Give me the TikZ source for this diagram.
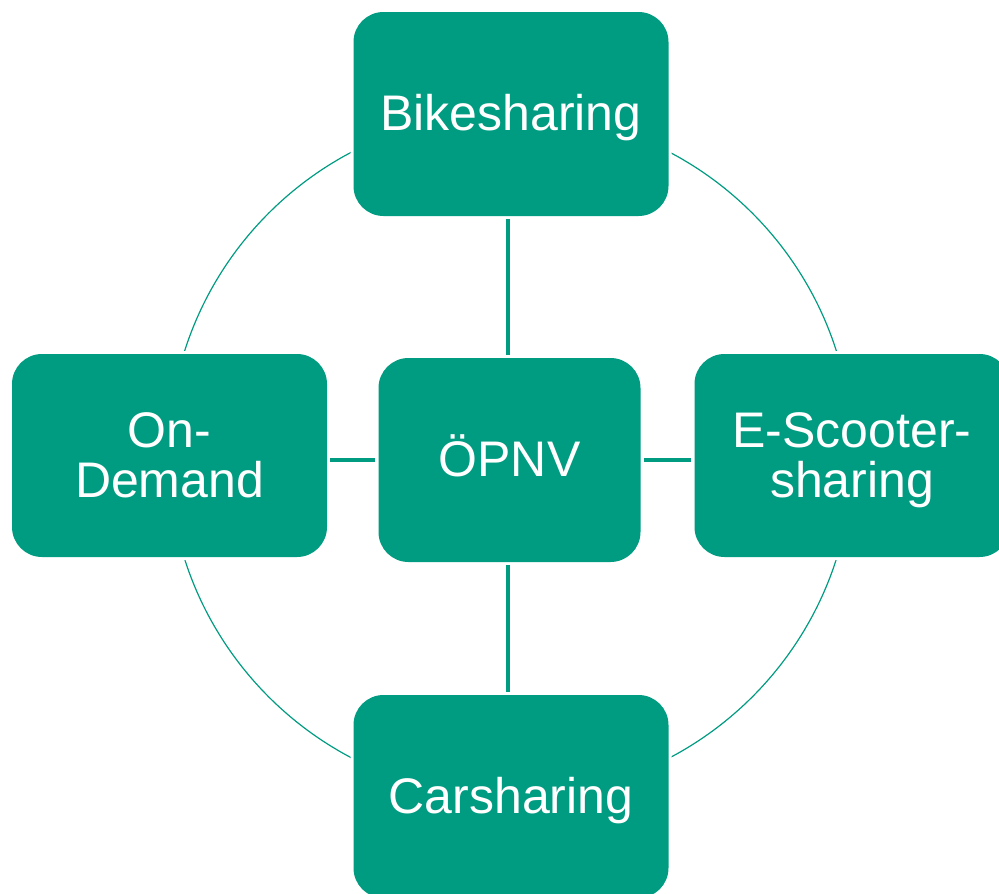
\documentclass[tikz,border=0pt]{standalone}
\usepackage{fontspec}
\setmainfont{Liberation Sans}
\usetikzlibrary{calc}
\definecolor{teal}{RGB}{0,156,130}
\begin{document}
\begin{tikzpicture}[x=1pt,y=-1pt,
  mbox/.style={rectangle, rounded corners=30pt, fill=teal, inner sep=0pt,
    preaction={draw=white, line width=6pt},
    text=white, align=center, text depth=0pt,
    font=\fontsize{50}{50}\selectfont},
  oneline/.style={text height=33pt},
  link/.style={draw=teal, line width=4pt, shorten <=3pt, shorten >=3pt},
  ring/.style={draw=teal, line width=1.2pt}]
\useasboundingbox (0,0) rectangle (999,894);
\clip (0,0) rectangle (999,894);
\coordinate (c) at (510.5,455);
\draw[ring] (c) circle[radius=342pt];
\node[mbox, oneline, minimum width=315pt, minimum height=204pt] (bk) at (511,114) {Bikesharing};
\node[mbox, oneline, minimum width=262pt, minimum height=204pt] (op) at (509.5,460) {ÖPNV};
\node[mbox, minimum width=315pt, minimum height=203pt] (od) at (169.5,455.5) {On-\\Demand};
\node[mbox, minimum width=315pt, minimum height=203pt] (es) at (852,455.5) {E-Scooter-\\sharing};
\node[mbox, oneline, minimum width=315pt, minimum height=203pt] (cs) at (511,796.5) {Carsharing};
\coordinate (vt) at ($(op.north)+(-1.5,0)$);
\coordinate (vb) at ($(op.south)+(-1.5,0)$);
\draw[link] (vt) -- (bk.south -| vt);
\draw[link] (vb) -- (cs.north -| vb);
\draw[link] (op.west) -- (od.east |- op.west);
\draw[link] (op.east) -- (es.west |- op.east);
\end{tikzpicture}
\end{document}
